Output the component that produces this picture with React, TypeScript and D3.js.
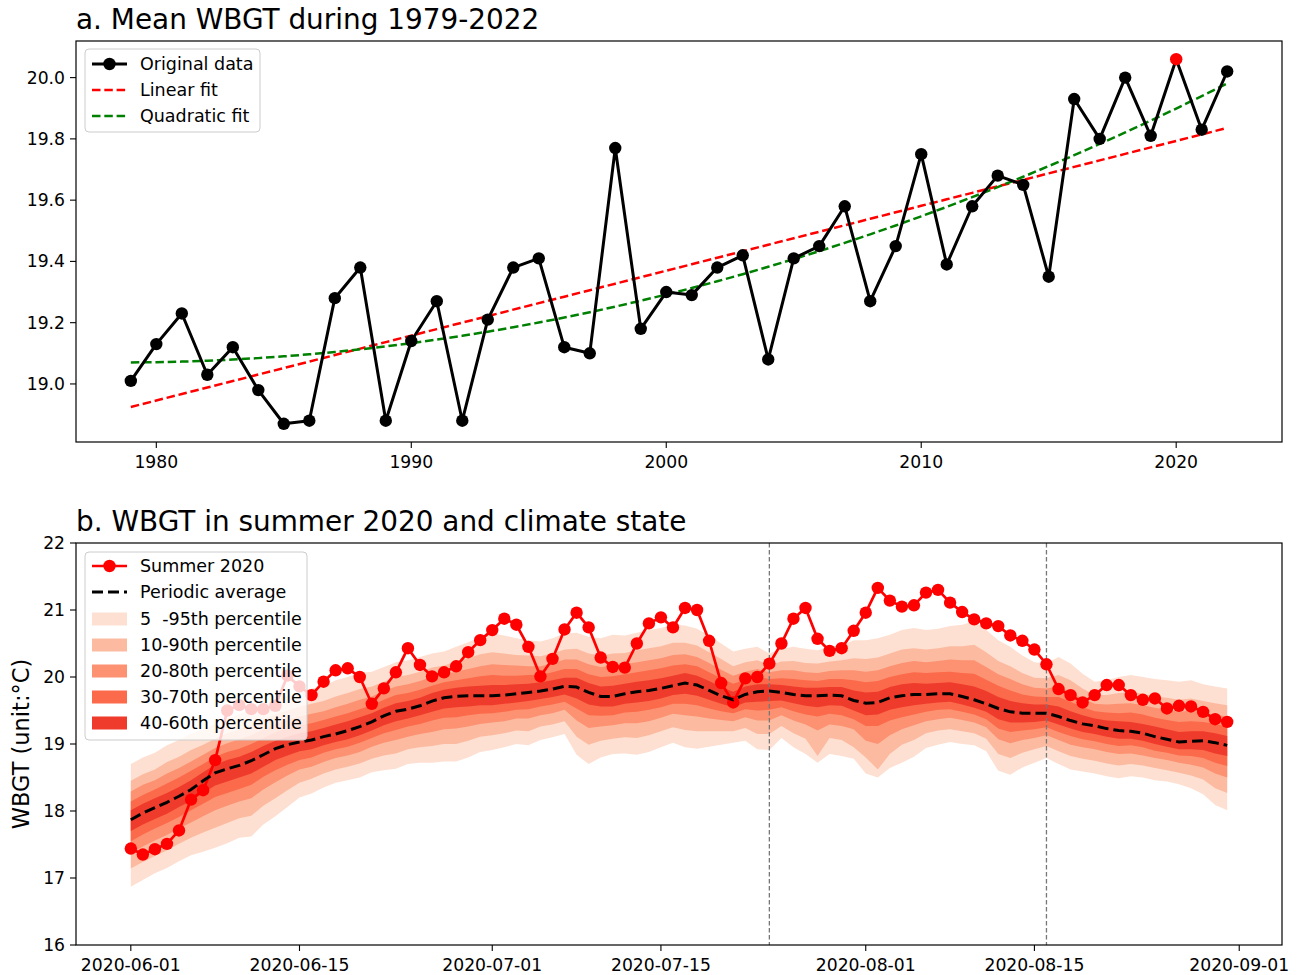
import React from 'react';
import * as d3 from 'd3';

// ---------- Panel a: annual mean WBGT ----------
const years = d3.range(1979, 2023);
const annualWbgt = [
  19.01, 19.13, 19.23, 19.03, 19.12, 18.98, 18.87, 18.88, 19.28, 19.38,
  18.88, 19.14, 19.27, 18.88, 19.21, 19.38, 19.41, 19.12, 19.10, 19.77,
  19.18, 19.30, 19.29, 19.38, 19.42, 19.08, 19.41, 19.45, 19.58, 19.27,
  19.45, 19.75, 19.39, 19.58, 19.68, 19.65, 19.35, 19.93, 19.80, 20.00,
  19.81, 20.06, 19.83, 20.02,
];
const highlightYear = 2020;
const yearTicks = [1980, 1990, 2000, 2010, 2020];
const annualTicks = [19.0, 19.2, 19.4, 19.6, 19.8, 20.0];

// ---------- Panel b: daily WBGT, summer 2020 vs climatology ----------
const summerStart = Date.UTC(2020, 5, 1);
const summer2020 = [
  17.44, 17.35, 17.43, 17.51, 17.71, 18.17, 18.31, 18.76, 19.50, 19.58,
  19.52, 19.52, 19.57, 20.02, 19.86, 19.73, 19.93, 20.10, 20.13, 20.00,
  19.60, 19.83, 20.07, 20.43, 20.18, 20.01, 20.07, 20.16, 20.37, 20.55,
  20.70, 20.87, 20.78, 20.45, 20.01, 20.27, 20.71, 20.96, 20.74, 20.29,
  20.15, 20.14, 20.50, 20.80, 20.89, 20.74, 21.03, 21.00, 20.54, 19.91,
  19.62, 19.98, 20.00, 20.20, 20.50, 20.87, 21.03, 20.57, 20.39, 20.43,
  20.69, 20.96, 21.33, 21.14, 21.05, 21.07, 21.26, 21.30, 21.11, 20.97,
  20.86, 20.80, 20.76, 20.62, 20.54, 20.41, 20.19, 19.82, 19.73, 19.62,
  19.73, 19.88, 19.88, 19.73, 19.66, 19.68, 19.53, 19.57, 19.56, 19.48,
  19.37, 19.33,
];
const periodicAverage = [
  17.87, 17.97, 18.05, 18.13, 18.22, 18.32, 18.45, 18.57, 18.63, 18.68,
  18.75, 18.84, 18.93, 18.99, 19.03, 19.06, 19.11, 19.15, 19.20, 19.26,
  19.33, 19.42, 19.49, 19.52, 19.57, 19.64, 19.69, 19.71, 19.72, 19.72,
  19.72, 19.73, 19.75, 19.77, 19.79, 19.82, 19.86, 19.85, 19.77, 19.71,
  19.71, 19.75, 19.78, 19.80, 19.83, 19.87, 19.91, 19.88, 19.80, 19.72,
  19.66, 19.74, 19.78, 19.79, 19.77, 19.74, 19.72, 19.72, 19.73, 19.72,
  19.65, 19.61, 19.62, 19.69, 19.72, 19.74, 19.74, 19.75, 19.75, 19.71,
  19.66, 19.60, 19.53, 19.48, 19.46, 19.46, 19.46, 19.41, 19.35, 19.30,
  19.27, 19.23, 19.20, 19.19, 19.16, 19.11, 19.07, 19.03, 19.04, 19.05,
  19.02, 18.98,
];
const pct95 = [
  18.70, 18.80, 18.87, 18.98, 19.06, 19.16, 19.22, 19.30, 19.38, 19.45,
  19.50, 19.60, 19.66, 19.72, 19.78, 19.83, 19.86, 19.95, 20.00, 20.06,
  20.08, 20.15, 20.22, 20.25, 20.30, 20.35, 20.38, 20.45, 20.52, 20.60,
  20.65, 20.62, 20.58, 20.55, 20.53, 20.58, 20.65, 20.66, 20.60, 20.58,
  20.63, 20.62, 20.66, 20.70, 20.73, 20.78, 20.77, 20.72, 20.62, 20.50,
  20.38, 20.42, 20.45, 20.35, 20.42, 20.45, 20.42, 20.40, 20.45, 20.47,
  20.55, 20.55, 20.58, 20.63, 20.70, 20.73, 20.70, 20.72, 20.76, 20.78,
  20.83, 20.70, 20.55, 20.45, 20.32, 20.22, 20.20, 20.30, 20.20, 20.05,
  19.93, 19.95, 20.00, 20.03, 20.00, 19.97, 19.95, 19.93, 19.95, 19.89,
  19.86, 19.83,
];
const pct90 = [
  18.45, 18.55, 18.62, 18.73, 18.81, 18.91, 18.99, 19.08, 19.16, 19.22,
  19.28, 19.37, 19.44, 19.50, 19.56, 19.60, 19.64, 19.71, 19.76, 19.82,
  19.86, 19.93, 20.00, 20.03, 20.08, 20.14, 20.17, 20.23, 20.28, 20.34,
  20.37, 20.35, 20.33, 20.32, 20.31, 20.35, 20.41, 20.42, 20.35, 20.32,
  20.35, 20.36, 20.40, 20.43, 20.46, 20.51, 20.51, 20.47, 20.37, 20.27,
  20.16, 20.22, 20.25, 20.18, 20.23, 20.24, 20.21, 20.20, 20.23, 20.25,
  20.28, 20.27, 20.29, 20.35, 20.41, 20.43, 20.41, 20.43, 20.46, 20.46,
  20.48, 20.37, 20.24, 20.16, 20.06, 19.99, 19.98, 20.03, 19.95, 19.83,
  19.73, 19.73, 19.76, 19.78, 19.75, 19.71, 19.69, 19.66, 19.68, 19.64,
  19.61, 19.58,
];
const pct80 = [
  18.29, 18.39, 18.46, 18.56, 18.64, 18.74, 18.84, 18.94, 19.01, 19.07,
  19.13, 19.22, 19.30, 19.36, 19.41, 19.45, 19.49, 19.55, 19.60, 19.66,
  19.71, 19.79, 19.86, 19.89, 19.94, 20.00, 20.04, 20.08, 20.12, 20.16,
  20.19, 20.18, 20.17, 20.16, 20.16, 20.20, 20.26, 20.26, 20.19, 20.15,
  20.17, 20.19, 20.22, 20.25, 20.28, 20.33, 20.34, 20.30, 20.21, 20.11,
  20.02, 20.08, 20.12, 20.07, 20.10, 20.10, 20.07, 20.06, 20.09, 20.10,
  20.10, 20.08, 20.10, 20.16, 20.21, 20.24, 20.22, 20.24, 20.26, 20.25,
  20.25, 20.15, 20.04, 19.97, 19.89, 19.84, 19.83, 19.86, 19.78, 19.68,
  19.60, 19.59, 19.60, 19.61, 19.58, 19.54, 19.51, 19.48, 19.50, 19.47,
  19.44, 19.41,
];
const pct70 = [
  18.14, 18.24, 18.32, 18.41, 18.50, 18.60, 18.70, 18.81, 18.88, 18.93,
  19.00, 19.09, 19.17, 19.23, 19.28, 19.31, 19.36, 19.41, 19.46, 19.52,
  19.58, 19.66, 19.73, 19.76, 19.81, 19.87, 19.92, 19.95, 19.98, 20.01,
  20.03, 20.02, 20.02, 20.03, 20.03, 20.07, 20.12, 20.12, 20.04, 20.00,
  20.01, 20.04, 20.07, 20.10, 20.13, 20.17, 20.19, 20.16, 20.07, 19.98,
  19.90, 19.96, 20.00, 19.97, 19.98, 19.97, 19.95, 19.94, 19.97, 19.97,
  19.95, 19.92, 19.94, 20.00, 20.04, 20.07, 20.06, 20.07, 20.08, 20.06,
  20.05, 19.96, 19.87, 19.80, 19.74, 19.71, 19.70, 19.70, 19.63, 19.55,
  19.49, 19.47, 19.46, 19.47, 19.44, 19.39, 19.36, 19.33, 19.34, 19.33,
  19.30, 19.26,
];
const pct60 = [
  18.01, 18.11, 18.19, 18.27, 18.36, 18.46, 18.58, 18.69, 18.76, 18.81,
  18.88, 18.97, 19.05, 19.11, 19.16, 19.19, 19.24, 19.29, 19.34, 19.40,
  19.46, 19.54, 19.61, 19.64, 19.69, 19.76, 19.81, 19.84, 19.86, 19.87,
  19.88, 19.88, 19.89, 19.90, 19.92, 19.95, 19.99, 19.99, 19.91, 19.86,
  19.87, 19.90, 19.93, 19.95, 19.98, 20.02, 20.06, 20.02, 19.94, 19.85,
  19.78, 19.86, 19.89, 19.89, 19.88, 19.86, 19.84, 19.84, 19.85, 19.85,
  19.80, 19.77, 19.78, 19.85, 19.89, 19.91, 19.90, 19.91, 19.92, 19.89,
  19.86, 19.79, 19.70, 19.64, 19.61, 19.59, 19.59, 19.56, 19.49, 19.43,
  19.38, 19.35, 19.34, 19.33, 19.30, 19.26, 19.22, 19.18, 19.19, 19.19,
  19.16, 19.12,
];
const pct40 = [
  17.70, 17.80, 17.88, 17.96, 18.06, 18.15, 18.27, 18.38, 18.44, 18.50,
  18.56, 18.66, 18.76, 18.83, 18.89, 18.92, 18.98, 19.03, 19.07, 19.13,
  19.20, 19.28, 19.34, 19.38, 19.43, 19.48, 19.53, 19.55, 19.56, 19.58,
  19.58, 19.60, 19.62, 19.64, 19.67, 19.70, 19.74, 19.68, 19.59, 19.56,
  19.56, 19.60, 19.62, 19.64, 19.68, 19.73, 19.75, 19.72, 19.66, 19.60,
  19.55, 19.62, 19.63, 19.64, 19.65, 19.61, 19.57, 19.55, 19.58, 19.57,
  19.50, 19.43, 19.44, 19.51, 19.55, 19.58, 19.60, 19.62, 19.63, 19.59,
  19.54, 19.48, 19.37, 19.32, 19.32, 19.33, 19.35, 19.29, 19.23, 19.18,
  19.15, 19.11, 19.08, 19.08, 19.05, 19.00, 18.96, 18.92, 18.92, 18.91,
  18.86, 18.82,
];
const pct30 = [
  17.55, 17.65, 17.74, 17.82, 17.91, 18.01, 18.11, 18.21, 18.27, 18.33,
  18.39, 18.51, 18.61, 18.69, 18.76, 18.80, 18.87, 18.92, 18.96, 19.02,
  19.09, 19.16, 19.21, 19.26, 19.30, 19.35, 19.39, 19.40, 19.43, 19.45,
  19.46, 19.48, 19.51, 19.52, 19.56, 19.59, 19.63, 19.53, 19.43, 19.42,
  19.43, 19.47, 19.48, 19.51, 19.55, 19.60, 19.60, 19.58, 19.53, 19.49,
  19.46, 19.52, 19.50, 19.51, 19.55, 19.49, 19.44, 19.41, 19.45, 19.43,
  19.37, 19.27, 19.27, 19.35, 19.40, 19.44, 19.48, 19.51, 19.52, 19.48,
  19.44, 19.37, 19.23, 19.18, 19.20, 19.22, 19.25, 19.18, 19.12, 19.07,
  19.04, 19.00, 18.97, 18.98, 18.95, 18.90, 18.87, 18.83, 18.82, 18.79,
  18.72, 18.67,
];
const pct20 = [
  17.37, 17.47, 17.56, 17.64, 17.74, 17.83, 17.92, 18.01, 18.08, 18.14,
  18.19, 18.32, 18.43, 18.53, 18.62, 18.66, 18.73, 18.79, 18.83, 18.88,
  18.96, 19.02, 19.06, 19.11, 19.15, 19.18, 19.22, 19.23, 19.26, 19.30,
  19.32, 19.34, 19.38, 19.38, 19.43, 19.46, 19.51, 19.35, 19.24, 19.26,
  19.28, 19.31, 19.31, 19.34, 19.39, 19.45, 19.43, 19.41, 19.38, 19.36,
  19.34, 19.40, 19.35, 19.35, 19.43, 19.35, 19.29, 19.20, 19.29, 19.27,
  19.22, 19.05, 19.00, 19.13, 19.22, 19.28, 19.34, 19.37, 19.39, 19.36,
  19.32, 19.25, 19.07, 19.01, 19.06, 19.09, 19.13, 19.06, 18.99, 18.95,
  18.92, 18.88, 18.85, 18.86, 18.83, 18.79, 18.76, 18.72, 18.69, 18.65,
  18.56, 18.50,
];
const pct10 = [
  17.14, 17.24, 17.33, 17.41, 17.51, 17.60, 17.68, 17.75, 17.82, 17.89,
  17.93, 18.08, 18.19, 18.31, 18.42, 18.48, 18.56, 18.62, 18.66, 18.71,
  18.78, 18.83, 18.86, 18.92, 18.95, 18.97, 19.00, 19.00, 19.05, 19.11,
  19.13, 19.16, 19.20, 19.19, 19.26, 19.29, 19.34, 19.11, 18.99, 19.05,
  19.08, 19.10, 19.09, 19.13, 19.19, 19.25, 19.21, 19.19, 19.19, 19.19,
  19.19, 19.24, 19.15, 19.15, 19.27, 19.16, 19.08, 18.82, 19.09, 19.06,
  18.95, 18.80, 18.62, 18.85, 18.99, 19.06, 19.16, 19.20, 19.22, 19.19,
  19.16, 19.08, 18.85, 18.79, 18.87, 18.92, 18.97, 18.89, 18.82, 18.78,
  18.75, 18.71, 18.68, 18.70, 18.68, 18.64, 18.61, 18.57, 18.53, 18.47,
  18.34, 18.27,
];
const pct05 = [
  16.87, 16.97, 17.07, 17.15, 17.25, 17.34, 17.39, 17.45, 17.52, 17.60,
  17.62, 17.80, 17.92, 18.06, 18.20, 18.26, 18.35, 18.42, 18.46, 18.50,
  18.58, 18.61, 18.63, 18.70, 18.72, 18.72, 18.74, 18.74, 18.80, 18.88,
  18.91, 18.95, 19.00, 18.98, 19.06, 19.10, 19.15, 18.84, 18.70, 18.80,
  18.85, 18.86, 18.84, 18.88, 18.95, 19.02, 18.95, 18.93, 18.96, 18.99,
  19.02, 19.05, 18.92, 18.91, 19.09, 18.95, 18.85, 18.72, 18.85, 18.82,
  18.78, 18.56, 18.50, 18.64, 18.72, 18.81, 18.94, 18.99, 19.03, 19.00,
  18.98, 18.89, 18.60, 18.54, 18.65, 18.72, 18.79, 18.70, 18.62, 18.59,
  18.56, 18.52, 18.49, 18.52, 18.50, 18.46, 18.44, 18.40, 18.34, 18.25,
  18.09, 18.01,
];
const bandLabels = [
  '5  -95th percentile',
  '10-90th percentile',
  '20-80th percentile',
  '30-70th percentile',
  '40-60th percentile',
];
const bandEdges = [
  [pct05, pct95],
  [pct10, pct90],
  [pct20, pct80],
  [pct30, pct70],
  [pct40, pct60],
];
const bandColors = ['#fee0d2', '#fcbba1', '#fc9272', '#fb6a4a', '#ef3b2c'];
const dateTicks = ['2020-06-01', '2020-06-15', '2020-07-01', '2020-07-15', '2020-08-01', '2020-08-15', '2020-09-01'];
const eventDates = ['2020-07-24', '2020-08-16'];
const wbgtTicks = [16, 17, 18, 19, 20, 21, 22];

// ---------- layout ----------
const W = 1298;
const H = 975;
const FONT = "'DejaVu Sans', sans-serif";
const A = { left: 76, right: 1282, top: 41, bottom: 442 };
const B = { left: 76, right: 1282, top: 543, bottom: 945 };
const TICK = 6;
const TITLE_SIZE = 27.9;
const TICK_SIZE = 17.2;
const LEGEND_SIZE = 17.5;

// Least-squares polynomial fit (normal equations + Gauss-Jordan)
function polyfit(xs: number[], ys: number[], deg: number): number[] {
  const n = deg + 1;
  const M = Array.from({ length: n }, () => new Array(n + 1).fill(0));
  xs.forEach((x, k) => {
    for (let i = 0; i < n; i++) {
      for (let j = 0; j < n; j++) M[i][j] += Math.pow(x, i + j);
      M[i][n] += ys[k] * Math.pow(x, i);
    }
  });
  for (let c = 0; c < n; c++) {
    let p = c;
    for (let r = c + 1; r < n; r++) if (Math.abs(M[r][c]) > Math.abs(M[p][c])) p = r;
    [M[c], M[p]] = [M[p], M[c]];
    for (let r = 0; r < n; r++) {
      if (r === c) continue;
      const f = M[r][c] / M[c][c];
      for (let k = c; k <= n; k++) M[r][k] -= f * M[c][k];
    }
  }
  return M.map((row, i) => row[n] / row[i]);
}
const evalPoly = (coef: number[], x: number) => coef.reduce((s, c, i) => s + c * Math.pow(x, i), 0);

function PanelA() {
  const pad = (years[years.length - 1] - years[0]) * 0.05;
  const x = d3.scaleLinear().domain([years[0] - pad, years[years.length - 1] + pad]).range([A.left, A.right]);
  const [lo, hi] = d3.extent(annualWbgt) as [number, number];
  const yPad = (hi - lo) * 0.05;
  const y = d3.scaleLinear().domain([lo - yPad, hi + yPad]).range([A.bottom, A.top]);

  const x0 = d3.mean(years) as number;
  const xc = years.map((v) => v - x0);
  const lin = polyfit(xc, annualWbgt, 1);
  const quad = polyfit(xc, annualWbgt, 2);
  const linFit = xc.map((v) => evalPoly(lin, v));
  const quadFit = xc.map((v) => evalPoly(quad, v));

  const line = d3.line<number>().x((_, i) => x(years[i])).y((d) => y(d));

  return (
    <g>
      <text x={A.left} y={29} fontSize={TITLE_SIZE} fontFamily={FONT} fill="#000">a. Mean WBGT during 1979-2022</text>
      <path d={line(linFit) || ''} fill="none" stroke="#ff0000" strokeWidth={2.5} strokeDasharray="8.5 3.8" />
      <path d={line(quadFit) || ''} fill="none" stroke="#008000" strokeWidth={2.5} strokeDasharray="8.5 3.8" />
      <path d={line(annualWbgt) || ''} fill="none" stroke="#000" strokeWidth={3} strokeLinejoin="round" />
      {annualWbgt.map((v, i) => (
        <circle key={i} cx={x(years[i])} cy={y(v)} r={6.2} fill={years[i] === highlightYear ? '#ff0000' : '#000'} />
      ))}
      {/* axes frame and ticks */}
      <rect x={A.left} y={A.top} width={A.right - A.left} height={A.bottom - A.top} fill="none" stroke="#000" strokeWidth={1.2} />
      {yearTicks.map((t) => (
        <g key={t}>
          <line x1={x(t)} x2={x(t)} y1={A.bottom} y2={A.bottom + TICK} stroke="#000" strokeWidth={1.1} />
          <text x={x(t)} y={A.bottom + 20} dy="0.35em" textAnchor="middle" fontSize={TICK_SIZE} fontFamily={FONT} fill="#000">{t}</text>
        </g>
      ))}
      {annualTicks.map((t) => (
        <g key={t}>
          <line x1={A.left - TICK} x2={A.left} y1={y(t)} y2={y(t)} stroke="#000" strokeWidth={1.1} />
          <text x={A.left - 11} y={y(t)} dy="0.35em" textAnchor="end" fontSize={TICK_SIZE} fontFamily={FONT} fill="#000">{t.toFixed(1)}</text>
        </g>
      ))}
      {/* legend */}
      <g>
        <rect x={85} y={49} width={175} height={83} rx={4} fill="#fff" fillOpacity={0.8} stroke="#cccccc" strokeWidth={1} />
        <line x1={92} x2={127} y1={64} y2={64} stroke="#000" strokeWidth={3} />
        <circle cx={109.5} cy={64} r={6.2} fill="#000" />
        <text x={140} y={64} dy="0.35em" fontSize={LEGEND_SIZE} fontFamily={FONT} fill="#000">Original data</text>
        <line x1={92} x2={127} y1={90} y2={90} stroke="#ff0000" strokeWidth={2.5} strokeDasharray="8.5 3.8" />
        <text x={140} y={90} dy="0.35em" fontSize={LEGEND_SIZE} fontFamily={FONT} fill="#000">Linear fit</text>
        <line x1={92} x2={127} y1={116} y2={116} stroke="#008000" strokeWidth={2.5} strokeDasharray="8.5 3.8" />
        <text x={140} y={116} dy="0.35em" fontSize={LEGEND_SIZE} fontFamily={FONT} fill="#000">Quadratic fit</text>
      </g>
    </g>
  );
}

function PanelB() {
  const DAY = 86400000;
  const dates = summer2020.map((_, i) => new Date(summerStart + i * DAY));
  const span = +dates[dates.length - 1] - +dates[0];
  const x = d3.scaleUtc()
    .domain([new Date(+dates[0] - span * 0.05), new Date(+dates[dates.length - 1] + span * 0.05)])
    .range([B.left, B.right]);
  const y = d3.scaleLinear().domain([16, 22]).range([B.bottom, B.top]);
  const parse = d3.utcParse('%Y-%m-%d');
  const fmt = d3.utcFormat('%Y-%m-%d');

  const area = (lower: number[], upper: number[]) =>
    d3.area<number>().x((_, i) => x(dates[i])).y0((_, i) => y(lower[i])).y1((_, i) => y(upper[i]))(lower) || '';
  const line = d3.line<number>().x((_, i) => x(dates[i])).y((d) => y(d));

  const rows = [566, 592, 619, 645, 671, 697, 723];

  return (
    <g>
      <text x={B.left} y={531} fontSize={TITLE_SIZE} fontFamily={FONT} fill="#000">b. WBGT in summer 2020 and climate state</text>
      {bandEdges.map(([lo, hi], k) => (
        <path key={k} d={area(lo, hi)} fill={bandColors[k]} stroke="none" />
      ))}
      {eventDates.map((d) => {
        const px = x(parse(d) as Date);
        return <line key={d} x1={px} x2={px} y1={B.top} y2={B.bottom} stroke="#777777" strokeWidth={1.3} strokeDasharray="4.5 2.5" />;
      })}
      <path d={line(summer2020) || ''} fill="none" stroke="#ff0000" strokeWidth={2.7} strokeLinejoin="round" />
      {summer2020.map((v, i) => (
        <circle key={i} cx={x(dates[i])} cy={y(v)} r={6.2} fill="#ff0000" />
      ))}
      <path d={line(periodicAverage) || ''} fill="none" stroke="#000" strokeWidth={3} strokeDasharray="11 5" />
      {/* axes frame and ticks */}
      <rect x={B.left} y={B.top} width={B.right - B.left} height={B.bottom - B.top} fill="none" stroke="#000" strokeWidth={1.2} />
      {dateTicks.map((t) => {
        const px = x(parse(t) as Date);
        return (
          <g key={t}>
            <line x1={px} x2={px} y1={B.bottom} y2={B.bottom + TICK} stroke="#000" strokeWidth={1.1} />
            <text x={px} y={B.bottom + 20} dy="0.35em" textAnchor="middle" fontSize={TICK_SIZE} fontFamily={FONT} fill="#000">{fmt(parse(t) as Date)}</text>
          </g>
        );
      })}
      {wbgtTicks.map((t) => (
        <g key={t}>
          <line x1={B.left - TICK} x2={B.left} y1={y(t)} y2={y(t)} stroke="#000" strokeWidth={1.1} />
          <text x={B.left - 11} y={y(t)} dy="0.35em" textAnchor="end" fontSize={TICK_SIZE} fontFamily={FONT} fill="#000">{t}</text>
        </g>
      ))}
      <text transform={`translate(21,${(B.top + B.bottom) / 2}) rotate(-90)`} dy="0.35em" textAnchor="middle" fontSize={22.5} fontFamily={FONT} fill="#000">WBGT (unit:°C)</text>
      {/* legend */}
      <g>
        <rect x={85} y={552} width={222} height={188} rx={4} fill="#fff" fillOpacity={0.8} stroke="#cccccc" strokeWidth={1} />
        <line x1={92} x2={127} y1={rows[0]} y2={rows[0]} stroke="#ff0000" strokeWidth={2.7} />
        <circle cx={109.5} cy={rows[0]} r={6.2} fill="#ff0000" />
        <text x={140} y={rows[0]} dy="0.35em" fontSize={LEGEND_SIZE} fontFamily={FONT} fill="#000">Summer 2020</text>
        <line x1={92} x2={127} y1={rows[1]} y2={rows[1]} stroke="#000" strokeWidth={3} strokeDasharray="11 5" />
        <text x={140} y={rows[1]} dy="0.35em" fontSize={LEGEND_SIZE} fontFamily={FONT} fill="#000">Periodic average</text>
        {bandLabels.map((lab, k) => (
          <g key={lab}>
            <rect x={92} y={rows[k + 2] - 6.5} width={35} height={13} fill={bandColors[k]} />
            <text x={140} y={rows[k + 2]} dy="0.35em" fontSize={LEGEND_SIZE} fontFamily={FONT} fill="#000" style={{ whiteSpace: 'pre' }}>{lab}</text>
          </g>
        ))}
      </g>
    </g>
  );
}

export default function App() {
  return (
    <svg width={W} height={H} viewBox={`0 0 ${W} ${H}`} style={{ position: 'absolute', left: 0, top: 0, background: '#fff' }}>
      <rect x={0} y={0} width={W} height={H} fill="#fff" />
      <PanelA />
      <PanelB />
    </svg>
  );
}
